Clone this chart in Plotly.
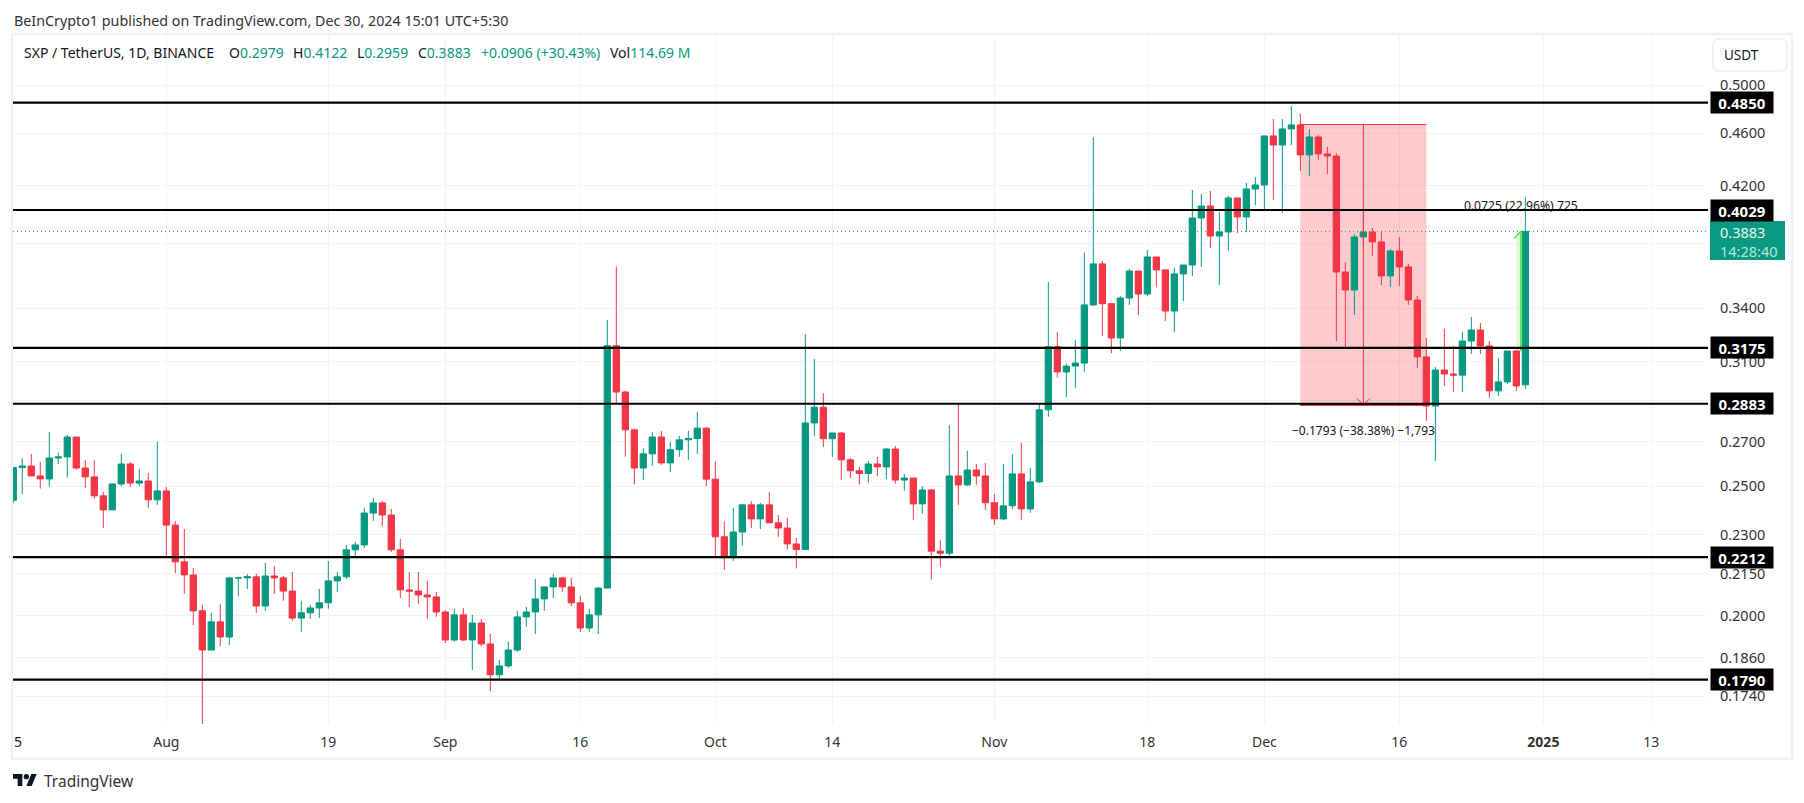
import numpy as np
import pandas as pd
import plotly.graph_objects as go

# daily candles, Jul 15 to Dec 30 2024
opens = [.2440,.2582,.2589,.2545,.2532,.2625,.2630,.2722,.2580,.2541,.2459,.2400,.2510,.2598,.2514,.2523,.2442,.2480,.2338,.2194,.2145,.2016,.1884,.1978,.1927,.2134,.2134,.2138,.2033,.2141,.2134,.2086,.1991,.2009,.2026,.2044,.2123,.2138,.2240,.2259,.2387,.2429,.2379,.2240,.2090,.2086,.2072,.2065,.2012,.1917,.2002,.1917,.1974,.1904,.1805,.1833,.1884,.1995,.2012,.2058,.2101,.2134,.2101,.2044,.1957,.2002,.2097,.3187,.2942,.2756,.2580,.2644,.2722,.2603,.2663,.2709,.2715,.2764,.2531,.2291,.2210,.2310,.2421,.2363,.2421,.2347,.2326,.2263,.2241,.2789,.2866,.2714,.2741,.2617,.2568,.2556,.2598,.2585,.2666,.2527,.2536,.2425,.2484,.2235,.2227,.2545,.2506,.2571,.2545,.2430,.2363,.2417,.2554,.2404,.2519,.2853,.3181,.3046,.3077,.3093,.3420,.3671,.3427,.3230,.3461,.3626,.3485,.3715,.3633,.3384,.3608,.3664,.3974,.4057,.3852,.3879,.4114,.3981,.4178,.4207,.4579,.4508,.4635,.4667,.4431,.4571,.4439,.4423,.3620,.3509,.3846,.3879,.3813,.3595,.3754,.3652,.3449,.3126,.2872,.3056,.3035,.3029,.3213,.3275,.3186,.2948,.2994,.3158,.2979]
highs = [.2582,.2624,.2644,.2607,.2746,.2650,.2732,.2722,.2616,.2616,.2476,.2513,.2644,.2607,.2576,.2558,.2699,.2497,.2355,.2322,.2171,.2037,.2009,.2040,.2138,.2138,.2149,.2149,.2190,.2179,.2141,.2156,.2051,.2037,.2094,.2197,.2156,.2259,.2271,.2408,.2450,.2437,.2404,.2283,.2156,.2156,.2123,.2083,.2019,.2023,.2026,.2002,.1988,.1937,.1852,.1911,.2016,.2030,.2130,.2101,.2149,.2138,.2134,.2069,.2023,.2101,.3332,.3654,.2949,.2761,.2669,.2746,.2751,.2699,.2727,.2751,.2843,.2769,.2608,.2354,.2408,.2425,.2437,.2430,.2476,.2379,.2367,.2286,.3252,.3115,.2937,.2741,.2746,.2625,.2585,.2612,.2630,.2671,.2680,.2554,.2536,.2500,.2488,.2278,.2779,.2880,.2658,.2598,.2603,.2467,.2598,.2644,.2694,.2580,.2885,.3557,.3263,.3091,.3219,.3742,.4570,.3690,.3426,.3473,.3639,.3626,.3760,.3715,.3639,.3645,.3664,.4171,.4142,.4164,.4016,.4128,.4114,.4222,.4266,.4579,.4715,.4715,.4822,.4756,.4635,.4587,.4493,.4446,.3683,.3866,.4022,.3906,.3879,.3767,.3846,.3671,.3473,.3230,.3072,.3281,.3186,.3264,.3349,.3315,.3213,.3120,.3158,.3164,.4122]
lows = [.2428,.2467,.2545,.2490,.2499,.2598,.2538,.2573,.2493,.2447,.2326,.2400,.2501,.2497,.2501,.2408,.2421,.2214,.2152,.2076,.1967,.1632,.1884,.1897,.1901,.2069,.2094,.2009,.2016,.2076,.2051,.1981,.1944,.1988,.1991,.2023,.2083,.2130,.2209,.2247,.2355,.2334,.2232,.2061,.2030,.2040,.1988,.1995,.1907,.1911,.1914,.1820,.1897,.1755,.1792,.1827,.1878,.1961,.1937,.2016,.2061,.2083,.2033,.1944,.1944,.1937,.2095,.2880,.2631,.2507,.2528,.2591,.2594,.2563,.2630,.2617,.2644,.2501,.2217,.2163,.2198,.2257,.2326,.2322,.2347,.2291,.2241,.2169,.2241,.2727,.2675,.2630,.2528,.2536,.2507,.2515,.2545,.2531,.2512,.2481,.2358,.2384,.2128,.2175,.2210,.2421,.2501,.2506,.2399,.2339,.2358,.2404,.2358,.2388,.2515,.2819,.3017,.2915,.2964,.3046,.3414,.3243,.3147,.3158,.3420,.3361,.3473,.3528,.3326,.3264,.3443,.3595,.3652,.3773,.3540,.3754,.3872,.3879,.4064,.4022,.4100,.4011,.4508,.4310,.4273,.4393,.4288,.3213,.3175,.3361,.3786,.3722,.3540,.3528,.3534,.3420,.3067,.2799,.2612,.2973,.2942,.2942,.3142,.3142,.2912,.2922,.2983,.2948,.2958]
closes = [.2582,.2589,.2545,.2532,.2625,.2630,.2722,.2580,.2541,.2459,.2400,.2510,.2598,.2514,.2523,.2442,.2480,.2338,.2194,.2145,.2016,.1884,.1978,.1927,.2134,.2134,.2138,.2033,.2141,.2134,.2086,.1991,.2009,.2026,.2044,.2123,.2138,.2240,.2259,.2387,.2429,.2379,.2240,.2090,.2086,.2072,.2065,.2012,.1917,.2002,.1917,.1974,.1904,.1805,.1833,.1884,.1995,.2012,.2058,.2101,.2134,.2101,.2044,.1957,.2002,.2097,.3187,.2942,.2756,.2580,.2644,.2722,.2603,.2663,.2709,.2715,.2764,.2531,.2291,.2210,.2310,.2421,.2363,.2421,.2347,.2326,.2263,.2241,.2789,.2866,.2714,.2741,.2617,.2568,.2556,.2598,.2585,.2666,.2527,.2536,.2425,.2484,.2235,.2227,.2545,.2506,.2571,.2545,.2430,.2363,.2417,.2554,.2404,.2519,.2853,.3181,.3046,.3077,.3093,.3420,.3671,.3427,.3230,.3461,.3626,.3485,.3715,.3633,.3384,.3608,.3664,.3974,.4057,.3852,.3879,.4114,.3981,.4178,.4207,.4579,.4508,.4635,.4667,.4431,.4571,.4439,.4423,.3620,.3509,.3846,.3879,.3813,.3595,.3754,.3652,.3449,.3126,.2872,.3056,.3035,.3029,.3213,.3275,.3186,.2948,.2994,.3158,.2973,.3883]
dates = pd.date_range("2024-07-15", periods=len(closes))

levels = [0.4850, 0.4029, 0.3175, 0.2883, 0.2212, 0.1790]
price_ticks = [0.50, 0.46, 0.42, 0.38, 0.34, 0.31, 0.29, 0.27, 0.25, 0.23, 0.215, 0.20, 0.186, 0.174]
# 0.38 and 0.29 keep their grid lines, their labels sit behind the price tags
price_labels = ["0.5000", "0.4600", "0.4200", "", "0.3400", "0.3100", "", "0.2700", "0.2500", "0.2300", "0.2150", "0.2000", "0.1860", "0.1740"]
time_ticks = ["2024-08-01", "2024-08-19", "2024-09-01", "2024-09-16", "2024-10-01", "2024-10-14",
              "2024-11-01", "2024-11-18", "2024-12-01", "2024-12-16", "2025-01-01", "2025-01-13"]
time_labels = ["Aug", "19", "Sep", "16", "Oct", "14", "Nov", "18", "Dec", "16", "<b>2025</b>", "13"]

last_price = 0.3883
short_top, short_bottom = 0.4671, 0.2878
long_bottom = 0.3158

TEAL = "#089981"
RED = "#F23645"
INK = "#131722"
LIME = "#45E02C"
GRID = "#F2F3F6"
FONT = "Noto Sans"

# the page body has an 8px margin, so page pixels are shifted by 8
W, H = 1788, 787
def px(x):
    return (x - 8) / W
def py(y):
    return 1 - (y - 8) / H

x_start, x_end = "2024-07-14 23:15", "2025-01-19 07:00"

fig = go.Figure()
fig.add_trace(go.Candlestick(
    x=dates, open=opens, high=highs, low=lows, close=closes,
    increasing=dict(line=dict(color=TEAL, width=1), fillcolor=TEAL),
    decreasing=dict(line=dict(color=RED, width=1), fillcolor=RED),
    whiskerwidth=0, hoverinfo="skip",
))

# measure label sits under the black line and is partly hidden by it
fig.add_trace(go.Scatter(x=["2024-12-29 12:00"], y=[0.4053], mode="text", text=["0.0725 (22.96%) 725"],
                         textfont=dict(family=FONT, size=12.2, color=INK), textposition="middle center"))

# short position arrow and edges
fig.add_trace(go.Scatter(x=["2024-12-05", "2024-12-19"], y=[short_top, short_top], mode="lines", line=dict(color=RED, width=1)))
fig.add_trace(go.Scatter(x=["2024-12-05", "2024-12-19"], y=[short_bottom, short_bottom], mode="lines", line=dict(color="#B0141E", width=2)))
fig.add_trace(go.Scatter(x=["2024-12-12", "2024-12-12"], y=[short_top, short_bottom], mode="lines", line=dict(color=RED, width=1)))
fig.add_trace(go.Scatter(x=["2024-12-11 06:00", "2024-12-12", "2024-12-12 18:00"], y=[0.2910, short_bottom, 0.2910],
                         mode="lines", line=dict(color=RED, width=1)))

# long measure line
fig.add_trace(go.Scatter(x=["2024-12-29 12:00", "2024-12-29 12:00"], y=[long_bottom, last_price], mode="lines", line=dict(color=LIME, width=1.3)))
fig.add_trace(go.Scatter(x=["2024-12-28 18:00", "2024-12-29 12:00"], y=[0.3835, last_price], mode="lines", line=dict(color=LIME, width=1.3)))

for lv in levels:
    fig.add_trace(go.Scatter(x=[x_start, x_end], y=[lv, lv], mode="lines", line=dict(color="black", width=2.2)))

shapes = [
    # screenshot frame
    dict(type="rect", xref="paper", yref="paper", x0=px(12), x1=px(1792), y0=py(759), y1=py(34),
         line=dict(color="#F0F1F4", width=2.5), layer="below"),
    # last price line
    dict(type="line", xref="x", yref="y", x0=x_start, x1=x_end, y0=last_price, y1=last_price,
         line=dict(color=TEAL, width=1, dash="1px,3px"), layer="between"),
    # position boxes
    dict(type="rect", xref="x", yref="y", x0="2024-12-05", x1="2024-12-19", y0=short_bottom, y1=short_top,
         fillcolor="rgba(250,60,70,0.27)", line=dict(width=0), layer="between"),
    dict(type="rect", xref="x", yref="y", x0="2024-12-29", x1="2024-12-30", y0=long_bottom, y1=last_price,
         fillcolor="rgba(80,240,50,0.22)", line=dict(width=0), layer="between"),
    # last price tag
    dict(type="rect", xref="paper", yref="paper", x0=px(1710), x1=px(1785), y0=py(260), y1=py(221),
         fillcolor=TEAL, line=dict(width=0)),
]

# USDT button, rounded
bx0, bx1, by0, by1, r = px(1713), px(1787), py(39), py(71), 6
rx, ry = r / W, r / H
shapes.append(dict(type="path", xref="paper", yref="paper", fillcolor="white", line=dict(color="#E6E8EE", width=1.2),
    path=f"M {bx0+rx} {by0} L {bx1-rx} {by0} Q {bx1} {by0} {bx1} {by0-ry} L {bx1} {by1+ry} Q {bx1} {by1} {bx1-rx} {by1} "
         f"L {bx0+rx} {by1} Q {bx0} {by1} {bx0} {by1+ry} L {bx0} {by0-ry} Q {bx0} {by0} {bx0+rx} {by0} Z"))

# TradingView mark
def logo_path(points):
    return "M " + " L ".join(f"{px(13 + u * 0.667)} {py(774 + (v - 4) * 0.667)}" for u, v in points) + " Z"
shapes.append(dict(type="path", xref="paper", yref="paper", fillcolor=INK, line=dict(width=0),
                   path=logo_path([(0, 4), (14, 4), (14, 22), (7, 22), (7, 11), (0, 11)])))
shapes.append(dict(type="path", xref="paper", yref="paper", fillcolor=INK, line=dict(width=0),
                   path=logo_path([(20, 22), (28, 22), (35.5, 4), (27.5, 4)])))
shapes.append(dict(type="circle", xref="paper", yref="paper", fillcolor=INK, line=dict(width=0),
                   x0=px(13 + 16 * 0.667), x1=px(13 + 24 * 0.667), y0=py(774 + 8 * 0.667), y1=py(774)))

def teal(s):
    return f"<span style='color:{TEAL}'>{s}</span>"

def note(text, x, y, size=14, color=INK, anchor="left", **kw):
    return dict(text=text, xref="paper", yref="paper", x=px(x), y=py(y), xanchor=anchor, yanchor="middle",
                showarrow=False, align=anchor, font=dict(family=FONT, size=size, color=color), **kw)

annotations = [
    note("BeInCrypto1 published on TradingView.com, Dec 30, 2024 15:01 UTC+5:30", 12, 20, 14.3, "#333333"),
    note("SXP / TetherUS, 1D, BINANCE", 22, 53),
    note("O" + teal("0.2979"), 227, 53),
    note("H" + teal("0.4122"), 291, 53),
    note("L" + teal("0.2959"), 355, 53),
    note("C" + teal("0.3883"), 416, 53),
    note(teal("+0.0906 (+30.43%)"), 479, 53),
    note("Vol" + teal("114.69 M"), 608, 53),
    note("USDT", 1722, 55, 13.5),
    note("5", 12, 741, 14),
    note("TradingView", 42, 781, 15.5, "#333333"),
    note("\u22120.1793 (\u221238.38%) \u22121,793", 1363, 430, 12, anchor="center"),
    note("0.3883<br><span style='color:#B8E6D8'>14:28:40</span>", 1718, 241, 14.5, "#E6F7F2"),
]
for lv in levels:
    annotations.append(dict(text=f"<b>{lv:.4f}</b>", xref="paper", yref="y", x=px(1710), y=np.log10(lv), xanchor="left", yanchor="middle",
                            showarrow=False, width=62, height=21, bgcolor="black", borderpad=0, align="center",
                            font=dict(family=FONT, size=15, color="white")))

fig.update_layout(
    width=W, height=H, margin=dict(l=0, r=0, t=0, b=0), showlegend=False,
    paper_bgcolor="white", plot_bgcolor="white",
    boxgap=0.3, boxgroupgap=0,
    shapes=shapes, annotations=annotations,
    font=dict(family=FONT, size=14, color=INK),
)
fig.update_xaxes(
    rangeslider_visible=False, type="date", domain=[px(13), px(1708)], range=[x_start, x_end],
    tickmode="array", tickvals=time_ticks, ticktext=time_labels, tickangle=0,
    showgrid=True, gridcolor=GRID, gridwidth=1, zeroline=False, showline=False,
    ticks="outside", ticklen=5, tickcolor="rgba(0,0,0,0)", tickfont=dict(family=FONT, size=14, color="#333333"),
)
fig.update_yaxes(
    type="log", side="right", domain=[py(724), py(36)], range=[np.log10(0.1658), np.log10(0.5442)],
    tickmode="array", tickvals=price_ticks, ticktext=price_labels,
    showgrid=True, gridcolor=GRID, gridwidth=1, zeroline=False, showline=False,
    ticks="outside", ticklen=8, tickcolor="rgba(0,0,0,0)", tickfont=dict(family=FONT, size=14.5, color="#333333"),
)

fig.write_html("out.html")
